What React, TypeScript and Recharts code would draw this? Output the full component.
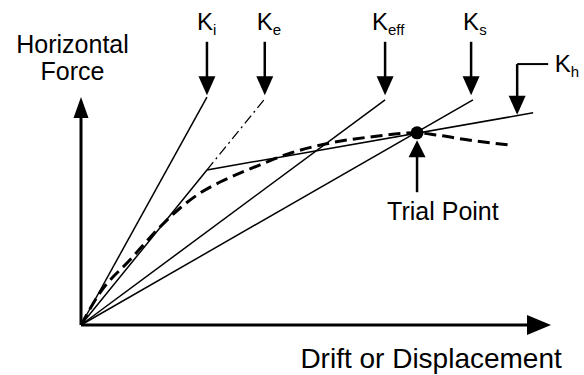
import React from "react";
import { LineChart, Line, XAxis, YAxis, ReferenceLine, ReferenceDot } from "recharts";

const FONT = "'Liberation Sans', Arial, sans-serif";

// stiffness lines from the origin (drift, force)
const kiLine = [{ x: 0, y: 0 }, { x: 2.68, y: 4.91 }];
const keffLine = [{ x: 0, y: 0 }, { x: 6.47, y: 4.85 }];
const ksLine = [{ x: 0, y: 0 }, { x: 8.34, y: 4.85 }];
// bilinear idealisation: elastic to yield, then post-yield slope Kh
const bilinear = [{ x: 0, y: 0 }, { x: 2.68, y: 3.34 }, { x: 9.62, y: 4.57 }];
const keExtension = [{ x: 2.68, y: 3.34 }, { x: 3.91, y: 4.87 }];
// capacity curve
const backbone = [
  { x: 0, y: 0 },
  { x: 0.4, y: 0.69 },
  { x: 1.04, y: 1.4 },
  { x: 1.68, y: 2.11 },
  { x: 2.11, y: 2.52 },
  { x: 2.53, y: 2.84 },
  { x: 2.96, y: 3.08 },
  { x: 3.38, y: 3.27 },
  { x: 3.81, y: 3.45 },
  { x: 4.45, y: 3.7 },
  { x: 5.3, y: 3.92 },
  { x: 6.15, y: 4.05 },
  { x: 7.15, y: 4.14 },
  { x: 7.57, y: 4.09 },
  { x: 8.28, y: 3.98 },
  { x: 9.09, y: 3.88 }
];
const trialPoint = { x: 7.15, y: 4.14 };

// stiffness labels: arrow x, text left x
const kLabels = [
  { sub: "i", arrowX: 2.68, textX: 2.47 },
  { sub: "e", arrowX: 3.91, textX: 3.74 },
  { sub: "eff", arrowX: 6.47, textX: 6.19 },
  { sub: "s", arrowX: 8.3, textX: 8.13 }
];
const labelTop = 6.1;
const labelTip = 4.95;
const labelBaseline = 6.35;

const khLeader = { fromX: 9.94, x: 9.28, y: 5.62, tip: 4.53, textX: 10.08, textY: 5.45 };
const trialArrow = { bottom: 2.86, tip: 3.98, textX: 7.7, textY: 2.26 };

function arrow(head: number, width: number, stroke: number) {
  return (p: any) => {
    const { x1, y1, x2, y2 } = p;
    const dx = x2 - x1;
    const dy = y2 - y1;
    const len = Math.hypot(dx, dy) || 1;
    const ux = dx / len;
    const uy = dy / len;
    const bx = x2 - ux * head;
    const by = y2 - uy * head;
    const px = (-uy * width) / 2;
    const py = (ux * width) / 2;
    return (
      <g>
        <line x1={x1} y1={y1} x2={bx + ux} y2={by + uy} stroke="#000" strokeWidth={stroke} />
        <polygon points={`${x2},${y2} ${bx + px},${by + py} ${bx - px},${by - py}`} fill="#000" />
      </g>
    );
  };
}

const kText = (sub: string) => (p: any) => (
  <text x={p.cx} y={p.cy} fontFamily={FONT} fontSize={24} fill="#000">
    K<tspan fontSize={15} dy={5}>{sub}</tspan>
  </text>
);

const plainText = (text: string, size: number, anchor: "start" | "middle" | "end") => (p: any) => (
  <text x={p.cx} y={p.cy} fontFamily={FONT} fontSize={size} fill="#000" textAnchor={anchor}>
    {text}
  </text>
);

export default function App() {
  return (
    <div style={{ position: "absolute", left: 0, top: 0, background: "#fff" }}>
      <LineChart width={584} height={375} margin={{ top: 0, right: 33, bottom: 50, left: 81 }}>
        <XAxis type="number" dataKey="x" domain={[0, 10]} hide />
        <YAxis type="number" dataKey="y" domain={[0, 7]} hide />

        <Line data={backbone} dataKey="y" type="monotone" stroke="#000" strokeWidth={3} strokeDasharray="12 6" dot={false} activeDot={false} isAnimationActive={false} />
        <Line data={kiLine} dataKey="y" type="linear" stroke="#000" strokeWidth={1.5} dot={false} activeDot={false} isAnimationActive={false} />
        <Line data={keffLine} dataKey="y" type="linear" stroke="#000" strokeWidth={1.5} dot={false} activeDot={false} isAnimationActive={false} />
        <Line data={ksLine} dataKey="y" type="linear" stroke="#000" strokeWidth={1.5} dot={false} activeDot={false} isAnimationActive={false} />
        <Line data={bilinear} dataKey="y" type="linear" stroke="#000" strokeWidth={1.5} dot={false} activeDot={false} isAnimationActive={false} />
        <Line data={keExtension} dataKey="y" type="linear" stroke="#000" strokeWidth={1.3} strokeDasharray="10 4 2 4" dot={false} activeDot={false} isAnimationActive={false} />

        {/* axes with arrow heads */}
        <ReferenceLine segment={[{ x: 0, y: 0 }, { x: 10, y: 0 }]} shape={arrow(24, 20, 3)} />
        <ReferenceLine segment={[{ x: 0, y: 0 }, { x: 0, y: 4.91 }]} shape={arrow(21, 15, 3)} />

        {kLabels.map((k) => (
          <ReferenceLine key={"a" + k.sub} segment={[{ x: k.arrowX, y: labelTop }, { x: k.arrowX, y: labelTip }]} shape={arrow(19, 17, 2.5)} />
        ))}
        {kLabels.map((k) => (
          <ReferenceDot key={"t" + k.sub} x={k.textX} y={labelBaseline} ifOverflow="visible" shape={kText(k.sub)} />
        ))}

        <ReferenceLine segment={[{ x: khLeader.fromX, y: khLeader.y }, { x: khLeader.x, y: khLeader.y }]} stroke="#000" strokeWidth={2} />
        <ReferenceLine segment={[{ x: khLeader.x, y: khLeader.y }, { x: khLeader.x, y: khLeader.tip }]} shape={arrow(19, 17, 2.5)} />
        <ReferenceDot x={khLeader.textX} y={khLeader.textY} ifOverflow="visible" shape={kText("h")} />

        <ReferenceDot x={trialPoint.x} y={trialPoint.y} r={6.5} fill="#000" stroke="none" />
        <ReferenceLine segment={[{ x: trialPoint.x, y: trialArrow.bottom }, { x: trialPoint.x, y: trialArrow.tip }]} shape={arrow(17, 17, 2.5)} />
        <ReferenceDot x={trialArrow.textX} y={trialArrow.textY} ifOverflow="visible" shape={plainText("Trial Point", 25, "middle")} />

        <ReferenceDot x={-0.18} y={5.86} ifOverflow="visible" shape={plainText("Horizontal", 25, "middle")} />
        <ReferenceDot x={-0.18} y={5.28} ifOverflow="visible" shape={plainText("Force", 25, "middle")} />
        <ReferenceDot x={10.23} y={-0.93} ifOverflow="visible" shape={plainText("Drift or Displacement", 28, "end")} />
      </LineChart>
    </div>
  );
}
